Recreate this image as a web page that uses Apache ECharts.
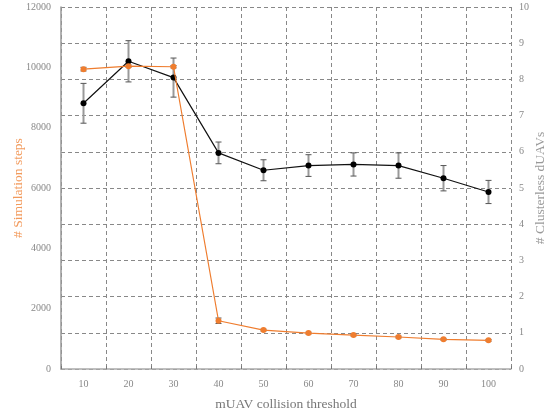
<!DOCTYPE html>
<html>
<head>
<meta charset="utf-8">
<script src="https://cdn.jsdelivr.net/npm/echarts@6/dist/echarts.min.js"></script>
<style>html,body{margin:0;padding:0;background:#fff;}#c{width:547px;height:414px;}</style>
</head>
<body>
<div id="c"></div>
<script>
var categories = ['10','20','30','40','50','60','70','80','90','100'];
var stepsMean = [9940, 10040, 10020, 1600, 1290, 1190, 1125, 1060, 985, 950];
var stepsErr = [60, 40, 40, 90, 30, 30, 30, 30, 30, 30];
var dUAVMean = [7.34, 8.50, 8.05, 5.97, 5.49, 5.62, 5.65, 5.62, 5.27, 4.89];
var dUAVErr = [0.55, 0.57, 0.54, 0.30, 0.29, 0.30, 0.32, 0.35, 0.35, 0.32];
var leftTicks = [0, 2000, 4000, 6000, 8000, 10000, 12000];
var rightTicks = [0,1,2,3,4,5,6,7,8,9,10];

var FONT = 'Liberation Serif';
var ORANGE = '#ef7d2f';

function errData(mean, err) {
  return mean.map(function (m, i) { return [i, m - err[i], m + err[i]]; });
}
function errRender(lineColor, capColor, capW) {
  return function (params, api) {
    var x = api.value(0);
    var lo = api.coord([x, api.value(1)]);
    var hi = api.coord([x, api.value(2)]);
    return {
      type: 'group',
      children: [
        {type: 'line', shape: {x1: lo[0], y1: lo[1], x2: hi[0], y2: hi[1]}, style: {stroke: lineColor, lineWidth: 2}},
        {type: 'line', shape: {x1: lo[0] - capW, y1: lo[1], x2: lo[0] + capW, y2: lo[1]}, style: {stroke: capColor, lineWidth: 1}},
        {type: 'line', shape: {x1: hi[0] - capW, y1: hi[1], x2: hi[0] + capW, y2: hi[1]}, style: {stroke: capColor, lineWidth: 1}}
      ]
    };
  };
}

var chart = echarts.init(document.getElementById('c'), null, {renderer: 'canvas'});
chart.setOption({
  animation: false,
  backgroundColor: '#fff',
  grid: {left: 61, right: 36, top: 7, bottom: 45, containLabel: false, outerBoundsMode: 'none'},
  xAxis: {
    type: 'category',
    data: categories,
    boundaryGap: true,
    name: 'mUAV collision threshold',
    nameLocation: 'middle',
    nameGap: 28,
    nameMoveOverlap: false,
    nameTextStyle: {color: '#777', fontFamily: FONT, fontSize: 13.5},
    axisLine: {show: true, lineStyle: {color: '#aaa', width: 1.5}},
    axisTick: {show: true, inside: true, length: 3, lineStyle: {color: '#777'}},
    axisLabel: {color: '#888', fontFamily: FONT, fontSize: 10, margin: 10},
    splitLine: {show: true, lineStyle: {color: '#888', type: [4, 3], width: 1}}
  },
  yAxis: [
    {
      type: 'value', min: 0, max: 12000, interval: 2000, position: 'left',
      name: '# Simulation steps', nameLocation: 'middle', nameGap: 36, nameRotate: 90,
      nameMoveOverlap: false,
      nameTextStyle: {color: '#f29a5c', fontFamily: FONT, fontSize: 13.5},
      axisLine: {show: true, lineStyle: {color: '#999', width: 1.5}},
      axisTick: {show: false},
      axisLabel: {color: '#888', fontFamily: FONT, fontSize: 10, margin: 10,
        formatter: function (v) { return leftTicks.indexOf(v) >= 0 ? String(v) : ''; }},
      splitLine: {show: false}
    },
    {
      type: 'value', min: 0, max: 10, interval: 1, position: 'right',
      name: '# Clusterless dUAVs', nameLocation: 'middle', nameGap: 22, nameRotate: 90,
      nameMoveOverlap: false,
      nameTextStyle: {color: '#999', fontFamily: FONT, fontSize: 13.5},
      axisLine: {show: false},
      axisTick: {show: false},
      axisLabel: {color: '#888', fontFamily: FONT, fontSize: 10, margin: 8,
        formatter: function (v) { return rightTicks.indexOf(v) >= 0 ? String(v) : ''; }},
      splitLine: {show: true, lineStyle: {color: '#888', type: [4, 3], width: 1}}
    }
  ],
  series: [
    {
      type: 'custom', yAxisIndex: 1, z: 3,
      renderItem: errRender('#999', '#555', 3),
      data: errData(dUAVMean, dUAVErr), encode: {x: 0, y: [1, 2]}
    },
    {
      type: 'line', yAxisIndex: 1, data: dUAVMean, z: 4,
      symbol: 'circle', symbolSize: 6,
      lineStyle: {color: '#111', width: 1.2},
      itemStyle: {color: '#000'}
    },
    {
      type: 'custom', yAxisIndex: 0, z: 5,
      renderItem: errRender('#888', '#555', 3),
      data: errData(stepsMean, stepsErr), encode: {x: 0, y: [1, 2]}
    },
    {
      type: 'line', yAxisIndex: 0, data: stepsMean, z: 6,
      symbol: 'circle', symbolSize: 6,
      lineStyle: {color: ORANGE, width: 1.2},
      itemStyle: {color: ORANGE}
    }
  ]
});
</script>
</body>
</html>
